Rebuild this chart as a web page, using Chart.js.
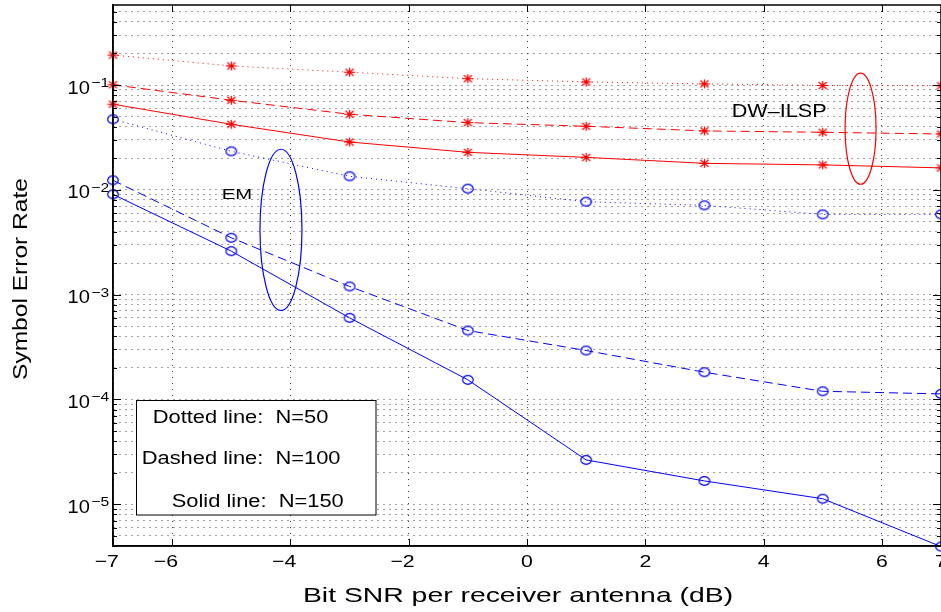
<!DOCTYPE html>
<html>
<head>
<meta charset="utf-8">
<script src="https://cdn.jsdelivr.net/npm/chart.js@4/dist/chart.umd.min.js"></script>
<style>
  html, body { margin: 0; padding: 0; background: #fff; }
  #grafico { display: block; }
</style>
</head>
<body>
<canvas id="grafico" width="941" height="612"></canvas>
<script>
// eixo x (Bit SNR, dB)
const snr = [-7, -5, -3, -1, 1, 3, 5, 7];

// DW-ILSP (vermelho, asteriscos)
const ilspN50 = [0.193, 0.152, 0.1325, 0.115, 0.107, 0.1025, 0.099, 0.0985];
const ilspN100 = [0.1005, 0.0716, 0.0526, 0.0438, 0.0404, 0.0365, 0.0354, 0.0341];
const ilspN150 = [0.0656, 0.0422, 0.0286, 0.0228, 0.0204, 0.0179, 0.0173, 0.0162];

// EM (azul, circulos)
const emN50 = [0.0471, 0.0233, 0.01346, 0.01026, 0.0077, 0.00711, 0.00583, 0.00583];
const emN100 = [0.01233, 0.00349, 0.001197, 0.000455, 0.000293, 0.000182, 0.0001197, 0.000113];
const emN150 = [0.00906, 0.0026, 0.000601, 0.000154, 2.65e-5, 1.67e-5, 1.13e-5, 3.95e-6];

// ticks
const xTicks = [-7, -6, -4, -2, 0, 2, 4, 6, 7];
const yDecades = [-5, -4, -3, -2, -1];

// textos
const xTitle = "Bit SNR per receiver antenna (dB)";
const yTitle = "Symbol Error Rate";
const legendLines = ["Dotted line:  N=50", "Dashed line:  N=100", "Solid line:  N=150"];

// elipses das anotacoes (em unidades dos dados)
const emRing = { x: -4.16, dx: 0.355, top: 0.0244, bottom: 7.06e-4 };
const ilspRing = { x: 5.64, dx: 0.262, top: 0.1297, bottom: 0.0113 };

const FONT = '"Liberation Sans", Arial, Helvetica, sans-serif';

function pares(ys) {
  return snr.map(function (x, i) { return { x: x, y: ys[i] }; });
}

function marcadorCirculo() {
  const c = document.createElement("canvas");
  c.width = 14; c.height = 12;
  const g = c.getContext("2d");
  g.strokeStyle = "#0000ff";
  g.lineWidth = 1.2;
  g.beginPath();
  g.ellipse(7, 6, 5.3, 4.3, 0, 0, Math.PI * 2);
  g.stroke();
  return c;
}

function marcadorAsterisco() {
  const c = document.createElement("canvas");
  c.width = 13; c.height = 11;
  const g = c.getContext("2d");
  g.strokeStyle = "#ff0000";
  g.lineWidth = 1.2;
  g.beginPath();
  g.moveTo(1, 5.5); g.lineTo(12, 5.5);
  g.moveTo(6.5, 1); g.lineTo(6.5, 10);
  g.moveTo(2.5, 2); g.lineTo(10.5, 9);
  g.moveTo(2.5, 9); g.lineTo(10.5, 2);
  g.stroke();
  return c;
}

// desenha texto esticado na horizontal (figura original foi esticada)
function texto(ctx, s, x, y, size, sx, align) {
  ctx.save();
  ctx.font = size + "px " + FONT;
  ctx.textBaseline = "alphabetic";
  ctx.textAlign = "left";
  const w = ctx.measureText(s).width * sx;
  let left = x;
  if (align === "center") left = x - w / 2;
  if (align === "right") left = x - w;
  ctx.translate(left, y);
  ctx.scale(sx, 1);
  ctx.fillText(s, 0, 0);
  ctx.restore();
  return w;
}

function elipse(ctx, xs, ys, r, cor) {
  const cx = xs.getPixelForValue(r.x);
  const rx = xs.getPixelForValue(r.x + r.dx) - cx;
  const yt = ys.getPixelForValue(r.top);
  const yb = ys.getPixelForValue(r.bottom);
  ctx.strokeStyle = cor;
  ctx.lineWidth = 1.2;
  ctx.setLineDash([]);
  ctx.beginPath();
  ctx.ellipse(cx, (yt + yb) / 2, rx, (yb - yt) / 2, 0, 0, Math.PI * 2);
  ctx.stroke();
}

const decoracao = {
  id: "decoracao",
  afterDraw: function (chart) {
    const ctx = chart.ctx;
    const a = chart.chartArea;
    const xs = chart.scales.x;
    const ys = chart.scales.y;
    ctx.save();
    ctx.fillStyle = "#000";

    // caixa do grafico
    ctx.strokeStyle = "#000";
    ctx.lineWidth = 1.5;
    ctx.setLineDash([]);
    ctx.strokeRect(a.left, a.top, a.right - a.left, a.bottom - a.top);

    // ticks para dentro
    ctx.lineWidth = 1;
    ctx.beginPath();
    xTicks.forEach(function (v) {
      const px = Math.round(xs.getPixelForValue(v)) + 0.5;
      ctx.moveTo(px, a.bottom); ctx.lineTo(px, a.bottom - 7);
      ctx.moveTo(px, a.top); ctx.lineTo(px, a.top + 7);
    });
    ys.ticks.forEach(function (t) {
      const py = Math.round(ys.getPixelForValue(t.value)) + 0.5;
      const len = t.major ? 8 : 4;
      ctx.moveTo(a.left, py); ctx.lineTo(a.left + len, py);
      ctx.moveTo(a.right, py); ctx.lineTo(a.right - len, py);
    });
    ctx.stroke();

    // rotulos do eixo x
    xTicks.forEach(function (v) {
      const px = xs.getPixelForValue(v);
      const dig = String(Math.abs(v));
      ctx.font = "17px " + FONT;
      const sx = 1.25;
      const wd = ctx.measureText(dig).width * sx;
      const wm = ctx.measureText("\u2212").width * sx;
      const left = px - wd / 2 - (v < 0 ? wm : 0);
      texto(ctx, (v < 0 ? "\u2212" : "") + dig, left, 567, 17, sx, "left");
    });

    // rotulos do eixo y (10^k)
    yDecades.forEach(function (e) {
      const py = ys.getPixelForValue(Math.pow(10, e));
      texto(ctx, "10", 90, py + 8.5, 17.5, 1.15, "right");
      texto(ctx, "\u2212" + Math.abs(e), 91.5, py + 2, 13, 1.2, "left");
    });

    // titulos dos eixos
    texto(ctx, xTitle, 518, 602, 21, 1.35, "center");
    ctx.save();
    ctx.translate(26.7, 279);
    ctx.rotate(-Math.PI / 2);
    ctx.font = "21px " + FONT;
    const wy = ctx.measureText(yTitle).width;
    ctx.scale(202 / wy, 1);
    ctx.textAlign = "center";
    ctx.fillText(yTitle, 0, 0);
    ctx.restore();

    // elipses e nomes dos metodos
    elipse(ctx, xs, ys, emRing, "#0000ff");
    elipse(ctx, xs, ys, ilspRing, "#ff0000");
    ctx.fillStyle = "#000";
    texto(ctx, "EM", 221.7, 199, 15, 1.35, "left");
    texto(ctx, "DW\u2013ILSP", 731.7, 116.7, 18.5, 1.17, "left");

    // caixa da legenda
    ctx.fillStyle = "#fff";
    ctx.fillRect(136.5, 400.5, 239.5, 114.5);
    ctx.strokeStyle = "#000";
    ctx.lineWidth = 1;
    ctx.strokeRect(136.5, 400.5, 239.5, 114.5);
    ctx.fillStyle = "#000";
    texto(ctx, legendLines[0], 152.7, 423.3, 17.5, 1.25, "left");
    texto(ctx, legendLines[1], 141.7, 464, 17.5, 1.25, "left");
    texto(ctx, legendLines[2], 171.7, 506.7, 17.5, 1.25, "left");

    ctx.restore();
  }
};

document.addEventListener("DOMContentLoaded", function () {
  if (typeof Chart === "undefined") {
    console.error("Chart.js nao carregou");
    return;
  }

  const circ = marcadorCirculo();
  const ast = marcadorAsterisco();

  function serie(label, ys, cor, dash, marcador) {
    return {
      label: label,
      data: pares(ys),
      borderColor: cor,
      borderWidth: 1,
      borderDash: dash,
      pointStyle: marcador,
      pointRadius: 5,
      pointHoverRadius: 5,
      fill: false,
      tension: 0,
      clip: false
    };
  }

  const ctx = document.getElementById("grafico").getContext("2d");

  new Chart(ctx, {
    type: "line",
    data: {
      datasets: [
        serie("DW-ILSP N=50", ilspN50, "#ff0000", [1, 4], ast),
        serie("DW-ILSP N=100", ilspN100, "#ff0000", [9, 5], ast),
        serie("DW-ILSP N=150", ilspN150, "#ff0000", [], ast),
        serie("EM N=50", emN50, "#0000ff", [1, 4], circ),
        serie("EM N=100", emN100, "#0000ff", [9, 5], circ),
        serie("EM N=150", emN150, "#0000ff", [], circ)
      ]
    },
    options: {
      responsive: false,
      devicePixelRatio: 1,
      animation: false,
      layout: { autoPadding: false, padding: { top: 5, right: 0, left: 0, bottom: 0 } },
      plugins: {
        legend: { display: false },
        tooltip: { enabled: false }
      },
      scales: {
        x: {
          type: "linear",
          min: -7,
          max: 7,
          afterBuildTicks: function (scale) {
            scale.ticks = xTicks.map(function (v) { return { value: v }; });
          },
          afterFit: function (scale) { scale.height = 66; },
          ticks: { display: false },
          grid: { color: "rgba(0,0,0,0.75)", lineWidth: 1, drawTicks: false },
          border: { color: "#000", width: 1.5, dash: [1, 5] }
        },
        y: {
          type: "logarithmic",
          min: 4e-6,
          max: 0.58,
          afterBuildTicks: function (scale) {
            const t = [];
            for (let e = -6; e <= 0; e++) {
              for (let m = 1; m <= 9; m++) {
                const v = m * Math.pow(10, e);
                if (v >= 4e-6 && v <= 0.58) t.push({ value: v, major: m === 1 });
              }
            }
            scale.ticks = t;
          },
          afterFit: function (scale) { scale.width = 113; },
          ticks: { display: false },
          grid: { color: "rgba(0,0,0,0.75)", lineWidth: 1, drawTicks: false },
          border: { color: "#000", width: 1.5, dash: [1, 5] }
        }
      }
    },
    plugins: [decoracao]
  });
});
</script>
</body>
</html>
